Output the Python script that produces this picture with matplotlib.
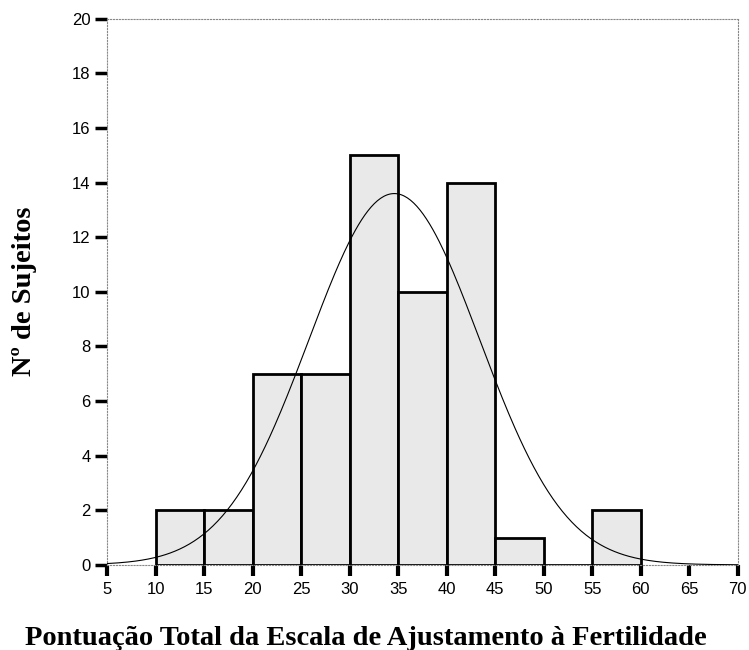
import matplotlib
matplotlib.use('Agg')

import matplotlib.pyplot as plt
import numpy as np

# dados do histograma (limites das classes e frequências)
bin_edges = [10, 15, 20, 25, 30, 35, 40, 45, 50, 55, 60]
counts = [2, 2, 7, 7, 15, 10, 14, 1, 0, 2]
x_ticks = [5, 10, 15, 20, 25, 30, 35, 40, 45, 50, 55, 60, 65, 70]
y_ticks = [0, 2, 4, 6, 8, 10, 12, 14, 16, 18, 20]

# curva normal ajustada
mean_score = 34.6
sd_score = 8.8
n_subjects = sum(counts)
bin_width = 5

fig = plt.figure(figsize=(7.49, 6.5), dpi=100)
ax = fig.add_axes([0.143, 0.131, 0.842, 0.840])

lefts = bin_edges[:-1]
ax.bar(lefts, counts, width=bin_width, align='edge', color='#e9e9e9',
       edgecolor='black', linewidth=2.0, zorder=2)

xs = np.linspace(5, 70, 400)
ys = n_subjects * bin_width * np.exp(-0.5 * ((xs - mean_score) / sd_score) ** 2) / (sd_score * np.sqrt(2 * np.pi))
ax.plot(xs, ys, color='black', linewidth=0.8, zorder=3)

ax.set_xlim(5, 70)
ax.set_ylim(0, 20)
ax.set_xticks(x_ticks)
ax.set_yticks(y_ticks)

for side in ['left', 'top', 'right', 'bottom']:
    ax.spines[side].set_color('#888888')
    ax.spines[side].set_linewidth(0.8)
    ax.spines[side].set_linestyle(':')

ax.tick_params(axis='y', direction='out', length=9, width=2.5, labelsize=12, pad=3)
ax.tick_params(axis='x', direction='out', length=8, width=3, labelsize=12, pad=4)
for lbl in ax.get_xticklabels() + ax.get_yticklabels():
    lbl.set_family('Liberation Sans')
    lbl.set_fontweight('medium')

# títulos dos eixos posicionados na figura
fig.text(0.489, 0.008, 'Pontuação Total da Escala de Ajustamento à Fertilidade',
         family='Liberation Serif', fontweight='bold', fontsize=20.5,
         ha='center', va='baseline')
fig.text(0.033, 0.552, 'Nº de Sujeitos', family='Liberation Serif',
         fontweight='bold', fontsize=20.5, rotation=90, ha='center', va='center')

plt.savefig('out.png', dpi=100)
plt.close()
